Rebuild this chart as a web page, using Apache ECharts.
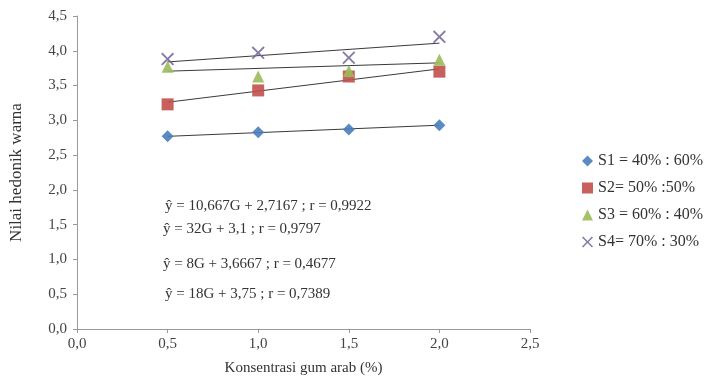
<!DOCTYPE html>
<html>
<head>
<meta charset="utf-8">
<script src="https://cdn.jsdelivr.net/npm/echarts@6/dist/echarts.min.js"></script>
<style>
  html, body { margin: 0; padding: 0; background: #fff; }
  #chart { width: 720px; height: 386px; }
</style>
</head>
<body>
<div id="chart"></div>
<script>
// konsentrasi gum arab (%)
const xValues = [0.5, 1.0, 1.5, 2.0];
const seriesNames = ['S1 = 40% : 60%', 'S2= 50% :50%', 'S3 = 60% : 40%', 'S4= 70% : 30%'];
const s1 = [2.77, 2.83, 2.87, 2.93];
const s2 = [3.23, 3.43, 3.63, 3.70];
const s3 = [3.77, 3.63, 3.71, 3.87];
const s4 = [3.88, 3.97, 3.90, 4.20];
// persamaan regresi (G = konsentrasi / 100)
const slopes = [10.667, 32, 8, 18];
const intercepts = [2.7167, 3.1, 3.6667, 3.75];
const equations = [
    'ŷ = 10,667G + 2,7167 ; r = 0,9922',
    'ŷ = 32G + 3,1 ; r = 0,9797',
    'ŷ = 8G + 3,6667 ; r = 0,4677',
    'ŷ = 18G + 3,75 ; r = 0,7389'
];

const allValues = [s1, s2, s3, s4];
const colors = ['#4a7ebb', '#c0504d', '#9bbb59', '#7b6a9c'];
const xMark = 'path://M0,1L1,0L5,4L9,0L10,1L6,5L10,9L9,10L5,6L1,10L0,9L4,5Z';
const symbols = ['diamond', 'rect', 'triangle', xMark];
const symbolSizes = [12, 12, 12, 13];
const serif = '"Liberation Serif", "DejaVu Serif", serif';
const comma = v => v.toFixed(1).replace('.', ',');

const myChart = echarts.init(document.getElementById('chart'));

const series = [];
// garis tren
allValues.forEach((vals, i) => {
    const x0 = xValues[0], x1 = xValues[xValues.length - 1];
    series.push({
        type: 'line',
        silent: true,
        symbol: 'none',
        z: 1,
        lineStyle: { color: '#3a3a3a', width: 1 },
        data: [[x0, slopes[i] * x0 / 100 + intercepts[i]], [x1, slopes[i] * x1 / 100 + intercepts[i]]]
    });
});
// titik data
allValues.forEach((vals, i) => {
    series.push({
        name: seriesNames[i],
        type: 'scatter',
        z: 3,
        symbol: symbols[i],
        symbolSize: symbolSizes[i],
        itemStyle: { color: colors[i], opacity: 0.9 },
        data: xValues.map((x, j) => [x, vals[j]])
    });
});

myChart.setOption({
    animation: false,
    backgroundColor: '#fff',
    grid: { left: 77, right: 190, top: 16, bottom: 57, outerBoundsMode: 'none' },
    legend: {
        orient: 'vertical',
        left: 577,
        top: 148,
        itemGap: 11,
        itemWidth: 11,
        itemHeight: 11,
        textStyle: { fontFamily: serif, fontSize: 16, color: '#333' },
        data: seriesNames
    },
    xAxis: {
        type: 'value',
        min: 0,
        max: 2.5,
        interval: 0.5,
        name: 'Konsentrasi gum arab (%)',
        nameLocation: 'middle',
        nameGap: 32,
        nameTextStyle: { fontFamily: serif, fontSize: 15, color: '#333' },
        axisLine: { lineStyle: { color: '#999' } },
        axisTick: { show: true, length: 4, lineStyle: { color: '#999' } },
        axisLabel: { fontFamily: serif, fontSize: 15, color: '#444', margin: 8, formatter: comma },
        splitLine: { show: false }
    },
    yAxis: {
        type: 'value',
        min: 0,
        max: 4.5,
        interval: 0.5,
        name: 'Nilai hedonik warna',
        nameLocation: 'middle',
        nameGap: 52,
        nameTextStyle: { fontFamily: serif, fontSize: 17, color: '#333' },
        axisLine: { show: true, lineStyle: { color: '#999' } },
        axisTick: { show: true, length: 4, lineStyle: { color: '#999' } },
        axisLabel: { fontFamily: serif, fontSize: 15, color: '#444', margin: 10, formatter: comma },
        splitLine: { show: false }
    },
    graphic: equations.map((t, i) => ({
        type: 'text',
        left: [165, 163, 163, 165][i],
        top: [199, 222, 257, 287][i],
        style: { text: t, font: '15px ' + serif, fill: '#333' }
    })),
    series: series
});
</script>
</body>
</html>
